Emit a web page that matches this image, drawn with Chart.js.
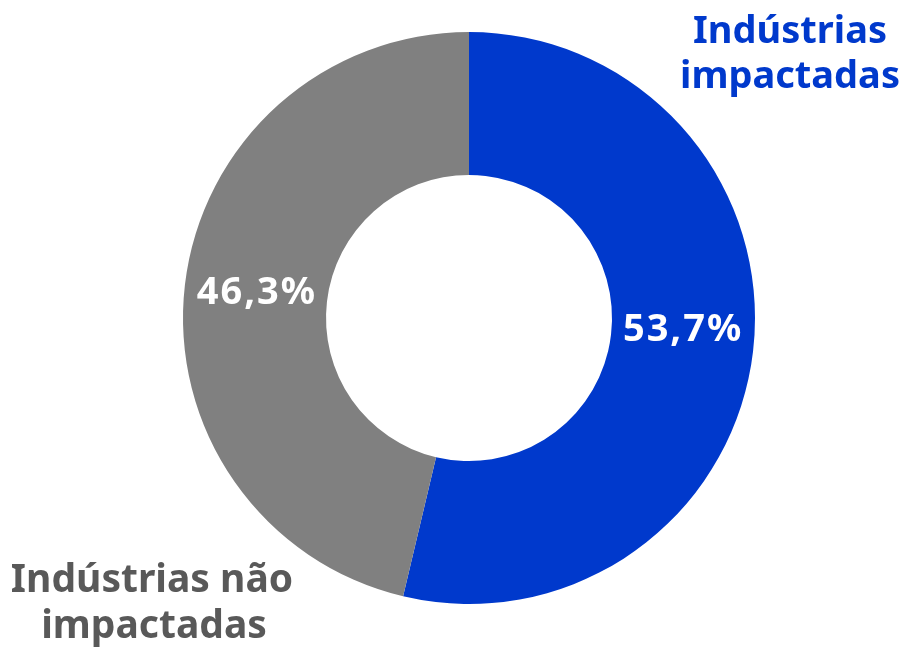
<!DOCTYPE html>
<html>
<head>
<meta charset="utf-8">
<script src="https://cdn.jsdelivr.net/npm/chart.js@4"></script>
<style>
  html, body { margin: 0; padding: 0; background: #ffffff; }
  #wrap { width: 909px; height: 650px; }
</style>
</head>
<body>
<div id="wrap"><canvas id="donutIndustrias"></canvas></div>
<script>
// data
var categorias = ['Indústrias impactadas', 'Indústrias não impactadas'];
var valores = [53.7, 46.3];
var rotulosTexto = [['Indústrias', 'impactadas'], ['Indústrias não', 'impactadas']];

var FONTE = '"Noto Sans", "Open Sans", sans-serif';
//small nudges of the percent labels, as in the original
var ajusteY = [-13, 0];

//Draws the percentages inside the slices and the category labels outside
var rotulosPlugin = {
    id: 'rotulos',
    afterDatasetsDraw: function(chart) {
        var ctx = chart.ctx;
        var meta = chart.getDatasetMeta(0);
        var area = chart.chartArea;
        ctx.save();
        ctx.textAlign = 'center';
        ctx.textBaseline = 'middle';
        ctx.fillStyle = '#ffffff';
        ctx.font = 'bold 38px ' + FONTE;
        ctx.letterSpacing = '2px';
        meta.data.forEach(function(arc, i) {
            var p = arc.tooltipPosition();
            var txt = valores[i].toFixed(1).replace('.', ',') + '%';
            ctx.fillText(txt, p.x + 1, p.y + ajusteY[i]);
        });

        ctx.letterSpacing = '0px';
        ctx.textBaseline = 'alphabetic';
        ctx.font = 'bold 38px ' + FONTE;
        //blue label, top right
        ctx.fillStyle = '#0039cc';
        ctx.fillText(rotulosTexto[0][0], area.right + 35, area.top + 11);
        ctx.fillText(rotulosTexto[0][1], area.right + 35, area.top + 56);
        //grey label, bottom left
        ctx.fillStyle = '#595959';
        ctx.font = 'bold 39px ' + FONTE;
        ctx.fillText(rotulosTexto[1][0], area.left - 31, area.bottom - 12);
        ctx.fillText(rotulosTexto[1][1], area.left - 29, area.bottom + 34);
        ctx.restore();
    }
};

var chrt = document.getElementById('donutIndustrias').getContext('2d');
var config = {
    type: 'doughnut',
    data: {
        labels: categorias,
        datasets: [{
            data: valores,
            backgroundColor: ['#0039cc', '#808080'],
            borderWidth: 0,
        }],
    },
    options: {
        responsive: true,
        maintainAspectRatio: false,
        animation: false,
        cutout: '50%',
        layout: {
            padding: { top: 32, bottom: 46, left: 183, right: 154 }
        },
        plugins: {
            legend: { display: false },
            tooltip: { enabled: false }
        }
    },
    plugins: [rotulosPlugin]
};

var donutIndustrias = new Chart(chrt, config);
</script>
</body>
</html>
